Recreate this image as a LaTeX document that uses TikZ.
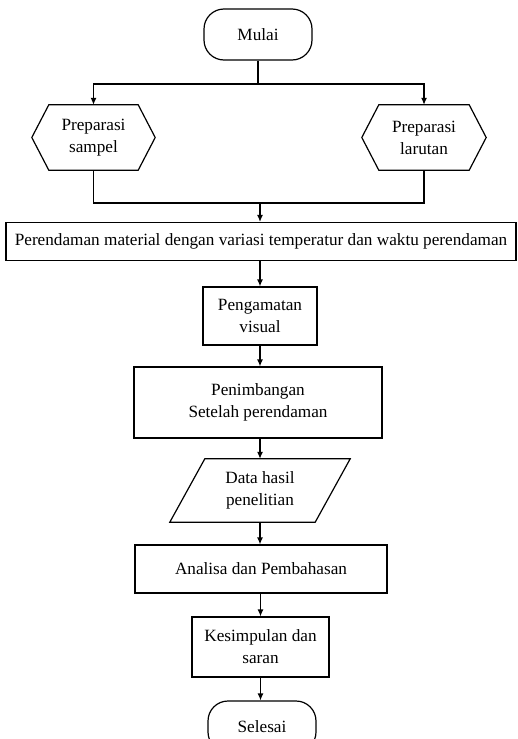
\documentclass[tikz,border=0pt]{standalone}
\usepackage{fontspec}
\setmainfont{Liberation Serif}
\usetikzlibrary{arrows.meta}
\begin{document}
\begin{tikzpicture}[x=1pt,y=-1pt,
		kotak/.style={draw,line width=1.2pt,align=center,inner sep=0pt,font=\fontsize{17.2}{22}\selectfont},
		ujung/.style={kotak,rounded corners=20pt},
		bayang/.style={align=center,inner sep=0pt,font=\fontsize{17.2}{22}\selectfont},
		garis/.style={line width=1.2pt},
		panah/.style={garis,-{Latex[length=7pt,width=6pt]}}]
			\useasboundingbox (0,0) rectangle (518,739);
			\node[ujung, minimum width=108pt, minimum height=51pt] (mulai) at (258,34.5) {Mulai};
			\node[bayang, minimum width=123pt, minimum height=65pt] (sampel) at (93.5,137.5) {Preparasi\\sampel};
			\node[bayang, minimum width=124pt, minimum height=65pt] (larutan) at (424,137.5) {Preparasi\\larutan};
			\node[kotak, minimum width=510pt, minimum height=38pt] (rendam) at (261,241.5) {Perendaman material dengan variasi temperatur dan waktu perendaman};
			\node[kotak, minimum width=114pt, minimum height=58pt] (amati) at (260,316) {Pengamatan\\visual};
			\node[kotak, minimum width=248pt, minimum height=71pt] (timbang) at (258,402.5) {Penimbangan\\Setelah perendaman};
			\node[bayang, minimum width=180pt, minimum height=63pt] (data) at (260,490.5) {Data hasil\\penelitian};
			\node[kotak, minimum width=252pt, minimum height=48pt] (analisa) at (261,569) {Analisa dan Pembahasan};
			\node[kotak, minimum width=137pt, minimum height=60pt] (simpulan) at (260.5,647) {Kesimpulan dan\\saran};
			\node[ujung, minimum width=108pt, minimum height=51pt] (selesai) at (262,726.5) {Selesai};
			\foreach \n in {sampel,larutan}
				\draw[garis] ([xshift=17pt]\n.north west) -- ([xshift=-17pt]\n.north east) -- (\n.east) -- ([xshift=-17pt]\n.south east) -- ([xshift=17pt]\n.south west) -- (\n.west) -- cycle;
			\draw[garis] ([xshift=35pt]data.north west) -- (data.north east) -- ([xshift=-35pt]data.south east) -- (data.south west) -- cycle;
			\coordinate (pisah) at (258,84);
			\coordinate (gabung) at (260,203);
			\draw[garis] (mulai) -- (pisah);
			\draw[panah] (pisah) -| (sampel.north);
			\draw[panah] (pisah) -| (larutan.north);
			\draw[garis] (sampel.south) |- (gabung) -| (larutan.south);
			\draw[panah] (gabung) -- (rendam.north -| gabung);
			\draw[panah] (rendam.south -| amati) -- (amati);
			\draw[panah] (amati) -- (timbang.north -| amati);
			\draw[panah] (timbang.south -| data) -- (data);
			\draw[panah] (data) -- (analisa.north -| data);
			\draw[panah] (analisa.south -| simpulan) -- (simpulan);
			\draw[panah] (simpulan) -- (selesai.north -| simpulan);
		\end{tikzpicture}
\end{document}
